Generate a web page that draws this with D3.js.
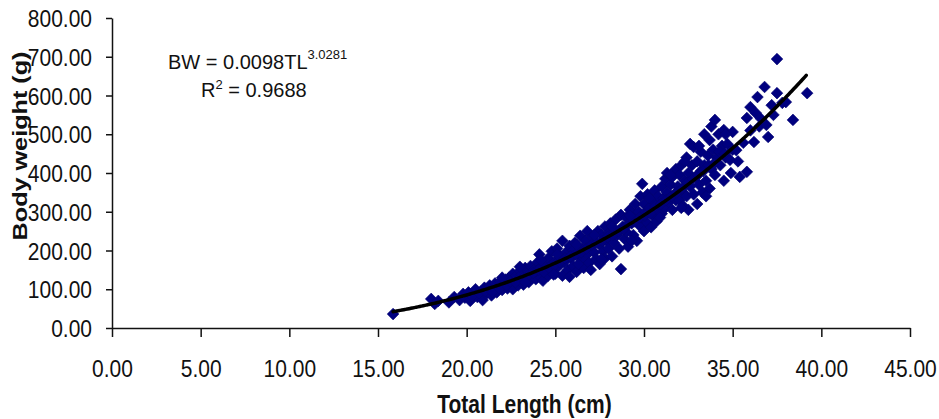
<!DOCTYPE html>
<html><head><meta charset="utf-8">
<script src="https://cdn.jsdelivr.net/npm/d3@7"></script>
<style>
body{margin:0;background:#fff}
svg{display:block}
text{font-family:"Liberation Sans",Arial,sans-serif}
</style>
</head><body>
<svg id="chart" width="939" height="419"></svg>
<script>
// ---- data ----
const xTicks = [0, 5, 10, 15, 20, 25, 30, 35, 40, 45];
const yTicks = [0, 100, 200, 300, 400, 500, 600, 700, 800];
const xTitle = "Total Length (cm)";
const yTitle = "Body weight (g)";
// fitted power curve BW = a * TL^b (from the chart's equation)
const fitA = 0.0098;
const fitB = 3.0281;
const fitRange = [15.85, 39.2];
const rSquared = "0.9688";
// observed fish: [total length (cm), body weight (g)]
const samples = [
 [15.85,36],[18.0,75],[18.2,62],[18.4,70],[19.0,66],[19.3,80],[19.6,72],[19.8,88],
 [19.9,78],[20.1,92],[20.2,70],[20.4,86],[20.5,100],[20.6,80],[20.8,94],[20.9,72],[21.0,104],[21.1,88],
 [21.2,96],[21.3,110],[21.4,84],[21.5,100],[21.6,115],[21.7,92],[21.8,106],[21.9,120],[22.0,98],[22.1,112],
 [22.2,125],[22.3,102],[22.4,130],[22.5,115],[22.6,140],[22.6,100],[22.7,122],[22.8,135],[22.9,110],[23.0,148],
 [23.0,125],[23.1,138],[23.2,112],[23.3,155],[23.4,130],[23.5,145],[23.5,118],[23.6,160],[23.7,136],[23.8,150],
 [23.9,126],[24.0,170],[24.0,145],[24.1,190],[24.2,158],[24.2,130],[24.3,122],[24.4,165],[24.5,148],[24.6,180],
 [24.6,135],[24.7,160],[24.8,198],[24.9,150],[25.0,172],[25.0,140],
 [25.1,205],[25.2,160],[25.3,185],[25.4,225],[25.4,135],[25.5,170],[25.6,195],[25.7,150],[25.8,212],[25.8,132],
 [25.9,180],[26.0,200],[26.0,160],[26.1,220],[26.2,145],[26.3,190],[26.4,238],[26.5,175],[26.5,205],[26.6,155],
 [26.7,225],[26.8,190],[26.8,250],[26.9,168],[27.0,210],[27.0,150],[27.1,235],[27.2,195],[27.3,178],[27.4,250],
 [27.5,215],[27.5,165],[27.6,240],[27.7,198],[27.8,262],[27.8,180],[27.9,225],[28.0,245],[28.0,205],
 [28.1,270],[28.2,185],[28.3,255],[28.3,220],[28.4,280],[28.5,240],[28.6,205],[28.7,152],[28.7,292],[28.8,262],
 [28.9,230],[29.0,285],[29.0,248],[29.1,210],[29.2,305],[29.3,270],[29.4,240],[29.5,320],[29.5,290],[29.6,225],
 [29.7,300],[29.8,340],[29.8,262],[29.9,372],[29.9,285],[30.0,320],[30.0,250],[30.1,300],[30.2,271],[30.2,345],
 [30.3,310],[30.4,260],[30.5,330],[30.5,290],[30.6,355],[30.7,305],[30.7,275],[30.8,340],[30.9,318],[31.0,365],
 [31.0,295],
 [31.1,335],[31.2,385],[31.2,310],[31.3,400],[31.3,350],[31.4,325],[31.5,370],[31.6,305],[31.6,390],[31.7,345],
 [31.8,410],[31.8,330],[31.9,365],[32.0,330],[32.0,395],[32.1,420],[32.2,350],[32.2,315],[32.3,380],[32.4,440],
 [32.4,340],[32.5,400],[32.5,305],[32.6,475],[32.6,365],[32.7,420],[32.8,467],[32.8,345],[32.9,390],[33.0,430],
 [33.0,320],[33.1,370],[33.2,455],[33.2,405],[33.3,350],[33.4,500],[33.4,420],[33.5,380],[33.6,445],[33.7,485],
 [33.7,360],[33.8,520],[33.8,410],[33.9,460],[34.0,537],[34.0,395],[34.1,440],[34.2,500],[34.3,420],[34.4,470],
 [34.5,511],[34.5,380],
 [34.6,440],[34.7,475],[34.85,434],[35.0,506],[35.0,460],[35.2,459],[35.4,390],[35.6,478],[35.8,403],[35.8,542],
 [36.0,570],[36.0,510],[36.3,555],[36.4,596],[36.5,520],[36.8,622],[36.9,524],[37.0,493],[37.3,550],[37.5,606],
 [37.5,694],[37.8,581],[38.0,583],[38.4,537],[39.2,606],
 [20.3,82],[20.7,90],[21.05,95],[21.45,93],[21.85,102],[22.25,110],[22.45,120],[22.75,118],[23.15,128],[23.45,135],
 [23.75,142],[24.05,150],[24.35,145],[24.65,155],[24.95,162],[25.25,170],[25.55,180],[25.85,185],[26.15,190],[26.45,195],
 [26.75,205],[27.05,215],[27.35,220],[27.65,225],[27.95,235],[28.25,240],[28.55,250],[28.85,255],[29.15,270],[29.45,275],
 [29.75,285],[30.05,290],[30.35,295],[30.65,315],[30.95,320],[31.25,330],[31.55,340],[31.85,350],[32.15,360],[32.45,375],
 [32.75,385],[33.05,395],[33.35,405],[33.65,420],[33.95,425],[34.25,455],[34.55,450],
 [22.0,130],[23.0,158],[24.2,175],[25.1,190],[26.2,215],[27.2,240],[28.2,262],[29.2,290],[30.3,335],[31.5,395],
 [32.3,430],[33.1,470],[34.6,500],
 [23.3,118],[24.9,138],[26.3,165],[27.6,178],[29.3,225],[30.9,285],[32.1,310],[33.5,340],[34.9,400],[35.3,430],
 [36.2,480],[36.6,540],[37.2,575]
];

// ---- chart ----
const svg = d3.select("#chart");
const x = d3.scaleLinear().domain([0, 45]).range([112, 910]);
const y = d3.scaleLinear().domain([0, 800]).range([328, 18]);
const fmt = d3.format(".2f");
const sY = 1.15;

// axes
const gx = svg.append("g").attr("transform", `translate(0,${y(0)})`)
  .call(d3.axisBottom(x).tickValues(xTicks).tickFormat(fmt).tickSize(9).tickSizeOuter(0));
gx.selectAll("text").attr("y", 42.4).attr("dy", 0)
  .attr("transform", `scale(1,${sY})`)
  .attr("font-size", 21).attr("fill", "#111");

const gy = svg.append("g").attr("transform", `translate(${x(0)},0)`)
  .call(d3.axisLeft(y).tickValues(yTicks).tickFormat(fmt).tickSize(6).tickSizeOuter(0));
gy.selectAll("text").attr("x", -20).attr("dy", "0.36em")
  .attr("transform", `scale(1,${sY})`)
  .attr("font-size", 21).attr("fill", "#111");

svg.selectAll(".domain, .tick line").attr("stroke", "#111").attr("stroke-width", 1.5);

// points
const diamond = d3.symbol().type(d3.symbolSquare).size(68);
svg.append("g").selectAll("path").data(samples).join("path")
  .attr("d", diamond)
  .attr("transform", d => `translate(${x(d[0])},${y(d[1])}) rotate(45)`)
  .attr("fill", "#00007f")
  .attr("stroke", "#000070").attr("stroke-width", 0.6);

// trend line
const fitPts = d3.range(fitRange[0], fitRange[1] + 0.001, 0.1).map(L => [L, fitA * Math.pow(L, fitB)]);
svg.append("path").datum(fitPts)
  .attr("d", d3.line().x(d => x(d[0])).y(d => y(d[1])).curve(d3.curveMonotoneX))
  .attr("fill", "none").attr("stroke", "#000").attr("stroke-width", 3.5).attr("stroke-linecap", "round");

// equation
const eq = svg.append("text").attr("x", 168).attr("y", 69).attr("font-size", 20).attr("fill", "#111");
eq.append("tspan").text(`BW = ${fitA}TL`);
eq.append("tspan").attr("font-size", 13).attr("dy", -10).text(fitB.toFixed(4));
const r2 = svg.append("text").attr("x", 201).attr("y", 97).attr("font-size", 20).attr("fill", "#111");
r2.append("tspan").text("R");
r2.append("tspan").attr("font-size", 13).attr("dy", -8).text("2");
r2.append("tspan").attr("dy", 8).text(` = ${rSquared}`);

// axis titles
svg.append("text").attr("transform", `translate(524.5,413) scale(1,1.2)`)
  .attr("text-anchor", "middle").attr("font-size", 21).attr("font-weight", "bold")
  .attr("fill", "#111").text(xTitle);
svg.append("text").attr("transform", `translate(27,146) rotate(-90) scale(1.2,1)`)
  .attr("text-anchor", "middle").attr("font-size", 21).attr("font-weight", "bold")
  .attr("fill", "#111").text(yTitle);
</script>
</body></html>
